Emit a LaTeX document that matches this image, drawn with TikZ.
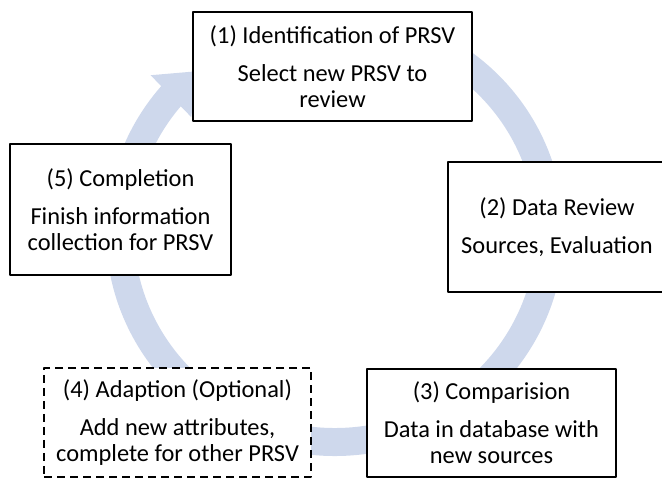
\documentclass[tikz,border=0pt]{standalone}
\usepackage{fontspec}
\setmainfont{Carlito}
\usepackage{tikz}
\usetikzlibrary{arrows.meta, bending, positioning}
\definecolor{cycleblue}{RGB}{206,216,236}

\begin{document}
\begin{tikzpicture}[line cap=round, line join=round, x=1pt, y=1pt,
	>={Triangle[width=56pt,length=36pt]},
	stage/.style={draw=black, line width=1.8pt, fill=white, inner sep=0pt, align=center,
		font=\fontsize{24.4}{26}\selectfont},
	optional/.style={stage, dash pattern=on 8pt off 5pt, line cap=butt}]
	\useasboundingbox (0,0) rectangle (662,478);
	% centre of the cycle
	\coordinate (C) at (335,246);
	\coordinate (S) at ([shift={(60:215 and 210)}]C);

	% cycle arrow behind the stages
	\draw[->, line width=28pt, cycleblue, line cap=butt] (S) arc[start angle=60, end angle=-230, x radius=215, y radius=210];

	% stages
	\node[stage, minimum width=279pt, minimum height=109pt] (identify) at (332.5,411.5)
		{(1) Identification of PRSV\\[12pt]Select new PRSV to\\review};
	\node[stage, minimum width=218pt, minimum height=130pt] (review) at (557,251)
		{(2) Data Review\\[12pt]Sources, Evaluation};
	\node[stage, minimum width=249pt, minimum height=108pt] (compare) at (491.5,55)
		{(3) Comparision\\[12pt]Data in database with\\new sources};
	\node[optional, minimum width=267pt, minimum height=109pt] (adapt) at (177.5,55.5)
		{(4) Adaption (Optional)\\[12pt]Add new attributes,\\complete for other PRSV};
	\node[stage, minimum width=221pt, minimum height=131pt] (complete) at (120.5,268.5)
		{(5) Completion\\[12pt]Finish information\\collection for PRSV};
\end{tikzpicture}
\end{document}
